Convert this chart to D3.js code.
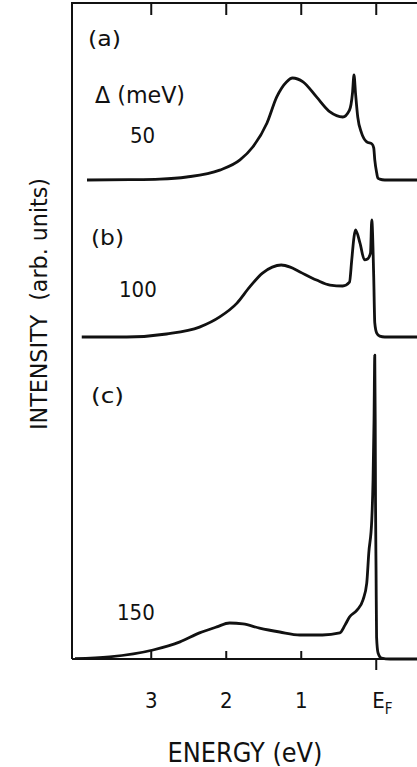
<!DOCTYPE html>
<html>
<head>
<meta charset="utf-8">
<script src="https://cdn.jsdelivr.net/npm/d3@7"></script>
<style>
  body { margin: 0; background: #fff; }
  text { font-family: "DejaVu Sans Condensed", "Liberation Sans Narrow", "DejaVu Sans", sans-serif; fill: #111; }
</style>
</head>
<body>
<div id="chart"></div>
<script>
  // DATA (energy below E_F in eV, intensity in arb. units)
  var energyA    = [3.85, 3.28, 2.88, 2.52, 2.08, 1.81, 1.64, 1.45, 1.32, 1.19, 1.11, 0.97, 0.79, 0.61, 0.44, 0.35, 0.31, 0.29, 0.27, 0.24, 0.19, 0.12, 0.05, 0.027, 0.013, -0.013, -0.027, -0.053, -0.12, -0.55];
  var intensityA = [0,    0.1,  0.3,  1.0,  3.3,  6.7,  11,   19,   27.7, 32.7, 34,   32.7, 27.7, 22.7, 21,   23.3, 29,   35,   29,   21,   15.7, 12.7, 12,   10.7,  6.7,   2.3,    0.7,    0.3,    0,     0];

  var energyB    = [3.92, 3.32, 2.79, 2.35, 2.08, 1.85, 1.68, 1.51, 1.38, 1.26, 1.14, 1.01, 0.79, 0.61, 0.44, 0.35, 0.32, 0.29, 0.27, 0.21, 0.15, 0.11, 0.07, 0.053, 0.027, 0.013, -0.013, -0.053, -0.12, -0.55];
  var intensityB = [0,    0,    1,    3.3,  6.7,  11.3, 16.7, 21.3, 23.3, 24,   23.3, 21.7, 19,   17.3, 17,   18.3, 25.7, 33.3, 35.7, 31.3, 25.7, 26,   28,   39,    20,    4.7,   1.3,    0.3,    0,     0];

  var energyC    = [4.01, 3.55, 2.97, 2.61, 2.35, 2.12, 1.95, 1.77, 1.55, 1.28, 1.01, 0.71, 0.48, 0.41, 0.35, 0.25, 0.17, 0.12, 0.093, 0.053, 0.036, 0.023, 0.013, 0.007, 0.003, -0.004, -0.011, -0.031, -0.076, -0.19, -0.55];
  var intensityC = [0.1,  0.7,  3,    5.7,  8.7,  10.7, 12,   11.7, 10.3, 9,    8,    8,    8.7,  11.3, 14,   16.3, 19.7, 25.3, 35.3,  46.3,  59.7,  79.7,  101.3, 79.7,  52,    29.7,   7.3,    2,      0.3,    0,     0];

  var tickValues = [3, 2, 1, 0];
  var tickLabels = ['3', '2', '1', 'E'];
  var gapLabels  = ['50', '100', '150'];

  var W = 417, H = 767;
  var svg = d3.select('#chart')
    .append('svg')
    .attr('width', W)
    .attr('height', H);

  var frameLeft = 72, frameTop = 3, frameBottom = 659;
  var xScale = d3.scaleLinear().domain([4.05, -0.55]).range([frameLeft, W]);

  // panel layout
  var panels = [
    {e: energyA, i: intensityA, base: 180, tag: '(a)', tagX: 88, tagY: 46, gap: gapLabels[0], gapX: 130, gapY: 143},
    {e: energyB, i: intensityB, base: 337, tag: '(b)', tagX: 91, tagY: 245, gap: gapLabels[1], gapX: 119, gapY: 297},
    {e: energyC, i: intensityC, base: frameBottom, tag: '(c)', tagX: 91, tagY: 403, gap: gapLabels[2], gapX: 117, gapY: 620}
  ];

  // frame: left and top lines
  svg.append('path')
    .attr('d', 'M' + W + ',' + frameTop + 'H' + frameLeft + 'V' + frameBottom)
    .attr('fill', 'none')
    .attr('stroke', '#111')
    .attr('stroke-width', 2);

  // top ticks (inside, pointing down)
  var topAxis = svg.append('g')
    .attr('transform', 'translate(0,' + frameTop + ')')
    .call(d3.axisTop(xScale).tickValues(tickValues).tickSize(-12).tickFormat(''));
  topAxis.select('.domain').remove();
  topAxis.selectAll('line').attr('stroke', '#111').attr('stroke-width', 2);

  // bottom axis
  var botAxis = svg.append('g')
    .attr('transform', 'translate(0,' + frameBottom + ')')
    .call(d3.axisBottom(xScale).tickValues(tickValues).tickSize(-8).tickPadding(33)
      .tickFormat(function(d, i) { return tickLabels[i]; }));
  botAxis.select('.domain')
    .attr('d', 'M' + frameLeft + ',0H' + W)
    .attr('stroke', '#111')
    .attr('stroke-width', 2.2);
  botAxis.selectAll('line').attr('stroke', '#111').attr('stroke-width', 2);
  botAxis.selectAll('text')
    .style('font-size', '22px')
    .attr('fill', '#111');
  // E_F tick goes outside
  botAxis.selectAll('.tick').filter(function(d) { return d === 0; })
    .each(function() {
      var t = d3.select(this);
      t.select('line').attr('y2', 11);
      t.select('text')
        .attr('text-anchor', 'start')
        .attr('x', -4)
        .append('tspan')
        .attr('dy', 6)
        .style('font-size', '15px')
        .text('F');
    });

  // curves
  var yScale = d3.scaleLinear().domain([0, 100]).range([0, 300]);
  var line = d3.line()
    .x(function(d) { return xScale(d[0]); })
    .curve(d3.curveMonotoneX);

  panels.forEach(function(p) {
    var pts = p.e.map(function(e, k) { return [e, p.i[k]]; });
    line.y(function(d) { return p.base - yScale(d[1]); });
    svg.append('path')
      .datum(pts)
      .attr('d', line)
      .attr('fill', 'none')
      .attr('stroke', '#111')
      .attr('stroke-width', 2.8)
      .attr('stroke-linejoin', 'round');

    svg.append('text')
      .attr('x', p.tagX).attr('y', p.tagY)
      .attr('textLength', 33)
      .attr('lengthAdjust', 'spacingAndGlyphs')
      .style('font-size', '22px')
      .text(p.tag);

    svg.append('text')
      .attr('x', p.gapX).attr('y', p.gapY)
      .style('font-size', '22px')
      .text(p.gap);
  });

  svg.append('text')
    .attr('x', 95).attr('y', 103)
    .attr('textLength', 90)
    .attr('lengthAdjust', 'spacingAndGlyphs')
    .style('font-size', '23px')
    .text('\u0394 (meV)');

  // axis titles
  svg.append('text')
    .attr('x', 245).attr('y', 762)
    .attr('text-anchor', 'middle')
    .attr('textLength', 155)
    .attr('lengthAdjust', 'spacingAndGlyphs')
    .style('font-size', '27px')
    .text('ENERGY (eV)');

  svg.append('text')
    .attr('transform', 'translate(47,304)rotate(-90)')
    .attr('text-anchor', 'middle')
    .attr('textLength', 252)
    .attr('lengthAdjust', 'spacingAndGlyphs')
    .style('font-size', '23px')
    .style('white-space', 'pre')
    .text('INTENSITY  (arb. units)');
</script>
</body>
</html>
